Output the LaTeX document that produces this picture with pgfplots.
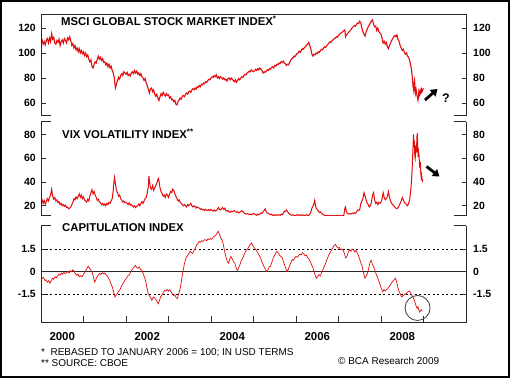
\documentclass[border=0pt]{standalone}
\usepackage{pgfplots}
\pgfplotsset{compat=1.18}
\usepackage{fontspec}
\setmainfont{Liberation Sans}
\usetikzlibrary{arrows.meta}
\definecolor{linered}{RGB}{228,12,12}
\definecolor{axgray}{RGB}{40,40,40}

\pgfplotsset{
  panel/.style={scale only axis, width=425bp, xmin=0, xmax=10, clip mode=individual,
    axis line style={draw=none}, tick align=inside, major tick length=7bp,
    xtick style={axgray, line width=0.8bp}, ytick style={draw=none},
    /pgf/number format/assume math mode=true,
    yticklabel pos=left,
    yticklabel style={font=\bfseries\fontsize{10.5}{12}\selectfont, inner sep=0pt, xshift=-5bp},
    xtick=\empty, minor tick num=0},
  rlabels/.style={scale only axis, width=425bp, xmin=0, xmax=10, axis line style={draw=none},
    hide x axis, tick align=inside, major tick length=4.5bp, ytick style={axgray, line width=0.8bp},
    /pgf/number format/assume math mode=true, ytick pos=both, yticklabel pos=right,
    yticklabel style={font=\bfseries\fontsize{10.5}{12}\selectfont, inner sep=0pt, xshift=7bp}},
}

\begin{document}
\begin{tikzpicture}
\useasboundingbox (0bp,0bp) rectangle (510bp,378bp);
\fill[white] (0bp,0bp) rectangle (510bp,378bp);

% ---------------- Panel 1: MSCI ----------------
\begin{axis}[panel, at={(41bp,262bp)}, anchor=south west, height=101bp,
  ymin=49.6, ymax=130.4, ytick={60,80,100,120}]
\addplot[linered, line width=1.1bp] table {
0.000 108
0.025 110.5
0.050 107
0.075 109
0.100 106.5
0.125 110
0.150 111.5
0.175 108
0.200 112
0.225 109
0.250 115.5
0.275 111
0.300 112.5
0.325 108
0.350 107
0.375 110
0.400 108.5
0.425 111
0.450 106
0.475 109
0.500 110.5
0.525 108
0.550 111.5
0.575 110
0.600 108
0.625 112
0.650 110.5
0.675 113
0.700 110
0.725 106
0.750 107.5
0.775 104
0.800 106
0.825 102.5
0.850 104
0.875 101
0.900 103.5
0.925 100
0.950 102
0.975 99.5
1.000 101
1.025 98
1.050 100
1.075 97
1.100 98.5
1.125 95
1.150 93
1.175 94.5
1.200 89
1.225 88
1.250 91
1.275 93
1.300 92
1.325 95
1.350 97.5
1.375 95
1.400 96.5
1.425 94
1.450 95.5
1.475 92.5
1.500 93
1.525 90.5
1.550 92
1.575 89
1.600 91
1.625 88
1.650 89.5
1.675 86
1.700 84
1.725 80
1.750 72
1.775 75
1.800 78
1.825 80.5
1.850 79
1.875 82
1.900 83.5
1.925 82
1.950 85
1.975 84
2.000 83
2.025 84.5
2.050 82
2.075 83
2.100 81.5
2.125 84
2.150 85
2.175 83.5
2.200 86
2.225 84
2.250 85.5
2.275 83
2.300 84
2.325 82
2.350 83.5
2.375 81
2.400 80
2.425 78
2.450 79.5
2.475 76
2.500 74
2.525 71
2.550 68
2.575 71.5
2.600 72
2.625 69
2.650 70.5
2.675 67
2.700 65.5
2.725 67
2.750 64
2.775 62
2.800 65
2.825 67.5
2.850 66
2.875 68.5
2.900 67
2.925 65.5
2.950 67.5
2.975 66
3.000 66.5
3.025 64
3.050 65
3.075 62.5
3.100 63
3.125 61
3.150 62
3.175 59
3.200 58.5
3.225 61
3.250 62.5
3.275 64
3.300 63
3.325 65.5
3.350 66
3.375 65
3.400 67
3.425 68
3.450 67
3.475 69
3.500 69.5
3.525 68.5
3.550 70.5
3.575 71.5
3.600 70.5
3.625 72
3.650 71
3.675 73
3.700 72.5
3.725 74
3.750 73
3.775 75
3.800 74.5
3.825 76
3.850 75.5
3.875 77
3.900 76.5
3.925 78
3.950 79
3.975 78.5
4.000 80
4.025 81
4.050 80.5
4.075 82
4.100 81
4.125 82.5
4.150 80
4.175 81
4.200 79.5
4.225 81
4.250 80.5
4.275 79
4.300 80
4.325 78.5
4.350 79
4.375 77.5
4.400 79.5
4.425 80
4.450 78.5
4.475 80
4.500 79
4.525 78
4.550 77
4.575 78.5
4.600 76.5
4.625 78
4.650 79.5
4.675 78.5
4.700 80
4.725 81
4.750 80.5
4.775 82
4.800 83
4.825 82.5
4.850 84
4.875 84.5
4.900 85.5
4.925 85
4.950 86.5
4.975 85.5
5.000 85
5.025 86
5.050 87
5.075 86
5.100 87.5
5.125 86.5
5.150 88
5.175 87
5.200 86
5.225 84
5.250 85
5.275 84.5
5.300 85.5
5.325 86.5
5.350 86
5.375 87.5
5.400 87
5.425 88.5
5.450 89
5.475 88
5.500 90
5.525 89.5
5.550 91
5.575 90.5
5.600 92
5.625 91.5
5.650 93
5.675 92.5
5.700 93.5
5.725 92
5.750 91.5
5.775 90
5.800 91
5.825 90.5
5.850 92.5
5.875 94
5.900 95.5
5.925 96
5.950 97.5
5.975 97
6.000 98.5
6.025 99.5
6.050 100
6.075 101.5
6.100 100.5
6.125 102
6.150 103.5
6.175 103
6.200 104.5
6.225 105
6.250 106.5
6.275 107
6.300 108.5
6.325 106
6.350 103
6.375 99
6.400 97.5
6.425 99
6.450 98.5
6.475 100
6.500 99.5
6.525 101
6.550 100.5
6.575 102
6.600 103
6.625 102.5
6.650 104
6.675 105
6.700 104.5
6.725 106
6.750 107
6.775 108
6.800 109
6.825 108.5
6.850 110
6.875 110.5
6.900 111.5
6.925 112
6.950 113
6.975 112.5
7.000 114
7.025 115
7.050 115.5
7.075 116.5
7.100 117
7.125 118
7.150 118.5
7.165 113
7.190 114.5
7.225 116
7.250 117
7.275 118
7.300 119
7.325 120.5
7.350 121
7.375 122
7.400 121.5
7.425 123
7.450 124
7.475 123.5
7.500 125.5
7.525 124
7.550 120
7.575 117
7.600 115
7.625 113.5
7.650 117
7.675 119
7.700 121
7.725 122.5
7.750 124
7.775 125.5
7.800 126.5
7.825 123
7.850 121
7.875 121.5
7.900 118
7.925 120
7.950 117
7.975 116
8.000 115
8.025 112
8.050 108
8.075 109.5
8.100 107
8.125 108.5
8.150 105
8.175 103.5
8.200 106
8.225 108
8.250 110
8.275 111.5
8.300 113
8.325 114
8.350 113
8.375 114.5
8.400 111
8.425 109.5
8.450 106
8.475 104
8.500 102
8.525 103
8.550 100.5
8.575 99
8.600 100
8.625 97.5
8.650 96.5
8.675 94
8.700 90
8.720 86
8.740 79
8.755 73
8.770 70
8.780 76
8.790 78
8.800 72
8.810 68
8.825 71
8.840 67
8.855 65
8.870 62
8.880 64
8.890 69
8.905 67
8.920 70
8.935 68
8.950 71
8.965 69
8.980 70
8.995 72
};
\draw[axgray, line width=1bp] (rel axis cs:0,0) -- (rel axis cs:0,1) -- (rel axis cs:1,1) -- (rel axis cs:1,0);
\end{axis}
\begin{axis}[rlabels, at={(41bp,262bp)}, anchor=south west, height=101bp,
  ymin=49.6, ymax=130.4, ytick={60,80,100,120}]
\end{axis}

% ---------------- Panel 2: VIX ----------------
\begin{axis}[panel, at={(41bp,162bp)}, anchor=south west, height=94.5bp,
  ymin=11.4, ymax=90.9, ytick={20,40,60,80}]
\addplot[linered, line width=1.0bp] table {
0.000 23
0.025 25
0.050 22
0.075 24.5
0.100 21.5
0.125 23.5
0.150 26
0.175 24
0.200 27
0.225 29
0.250 34
0.275 28
0.300 25.5
0.325 27
0.350 24
0.375 25
0.400 22.5
0.425 23.5
0.450 21
0.475 22
0.500 20
0.525 21
0.550 19.5
0.575 20.5
0.600 18.5
0.625 19
0.650 17.5
0.675 18
0.700 19
0.725 21
0.750 23
0.775 26
0.800 25
0.825 27.5
0.850 26
0.875 28
0.900 30
0.925 27
0.950 29
0.975 26
1.000 27.5
1.025 25
1.050 24
1.075 23
1.100 25.5
1.125 24
1.150 28
1.175 31
1.200 33.5
1.225 30
1.250 32
1.275 29
1.300 27
1.325 24.5
1.350 25.5
1.375 23
1.400 22.5
1.425 21
1.450 22
1.475 20.5
1.500 21.5
1.525 20
1.550 22
1.575 21
1.600 23
1.625 22
1.650 24
1.675 26
1.700 33
1.715 40
1.730 44
1.750 39
1.775 33
1.800 31
1.825 28
1.850 29
1.875 26
1.900 24.5
1.925 23
1.950 24
1.975 22.5
2.000 23
2.025 22
2.050 21
2.075 22.5
2.100 20.5
2.125 21
2.150 20
2.175 19
2.200 20
2.225 18.5
2.250 19.5
2.275 20
2.300 21.5
2.325 20
2.350 22
2.375 23.5
2.400 22
2.425 24
2.450 26
2.475 27
2.500 31
2.525 36
2.540 45
2.555 40
2.575 35
2.600 34
2.625 37
2.650 33
2.675 35
2.700 37
2.725 39
2.750 42
2.765 43
2.780 40
2.800 35
2.825 32
2.850 30
2.875 28
2.900 29
2.925 27
2.950 30
2.975 29
3.000 27
3.025 30
3.050 32
3.075 31
3.100 34
3.125 33
3.150 30
3.175 28
3.200 26
3.225 24
3.250 25
3.275 23
3.300 22
3.325 21
3.350 20
3.375 21
3.400 20
3.425 19
3.450 21
3.475 20
3.500 21
3.525 22
3.550 20
3.575 19
3.600 20
3.625 19.5
3.650 18
3.675 19
3.700 18.5
3.725 18
3.750 17
3.775 17.5
3.800 16.5
3.825 17
3.850 16
3.875 17
3.900 16.5
3.925 16
3.950 17
3.975 16
4.000 17
4.025 16
4.050 15.5
4.075 16.5
4.100 15.5
4.125 16
4.150 17
4.175 18.5
4.200 17
4.225 16.5
4.250 17.5
4.275 18.5
4.300 17
4.325 18
4.350 16
4.375 15.5
4.400 16
4.425 15
4.450 14.5
4.475 15.5
4.500 15
4.525 15.5
4.550 16
4.575 15
4.600 14.5
4.625 15
4.650 14
4.675 14.5
4.700 15
4.725 16
4.750 15
4.775 14
4.800 13.5
4.825 13
4.850 13.5
4.875 13
4.900 12.5
4.925 13
4.950 12.5
4.975 13
5.000 13.5
5.025 13
5.050 12.5
5.075 12
5.100 13
5.125 12.5
5.150 13
5.175 14
5.200 13.5
5.225 15
5.250 16
5.275 17.5
5.300 15
5.325 14
5.350 13.5
5.375 13
5.400 12.5
5.425 13
5.450 12
5.475 11.8
5.500 12.5
5.525 12
5.550 12.5
5.575 12
5.600 12.5
5.625 12
5.650 13
5.675 12.5
5.700 13.5
5.725 15.5
5.750 15
5.775 16.5
5.800 15
5.825 14
5.850 13
5.875 12.5
5.900 12
5.925 12.5
5.950 12
5.975 11.8
6.000 12
6.025 12.5
6.050 12
6.075 12.5
6.100 11.8
6.125 12
6.150 12.5
6.175 12
6.200 11.8
6.225 12
6.250 12.5
6.275 12
6.300 11.8
6.325 13
6.350 15
6.375 18
6.400 19.5
6.425 22
6.440 24.5
6.460 20
6.475 18
6.500 17
6.525 15.5
6.550 14.5
6.575 15
6.600 13.5
6.625 13
6.650 12.5
6.675 12
6.700 11.8
6.725 12
6.750 11.5
6.775 11.8
6.800 11.5
6.825 11.8
6.850 11.5
6.875 11.8
6.900 11.5
6.925 11.8
6.950 11.5
6.975 12
7.000 11.8
7.025 11.5
7.050 11.8
7.075 11.5
7.100 11.8
7.125 12
7.150 18
7.165 19
7.185 15
7.200 14
7.225 13.5
7.250 13
7.275 13.5
7.300 13
7.325 14
7.350 13.5
7.375 14
7.400 13.5
7.425 15
7.450 16.5
7.475 16
7.500 17
7.525 22
7.550 24
7.575 26
7.600 31
7.625 28
7.650 25
7.675 22
7.700 21
7.725 19
7.750 20
7.775 23
7.800 29
7.825 31
7.850 25
7.875 22
7.900 23
7.925 21
7.950 23
7.975 22
8.000 23
8.025 26
8.050 31
8.075 27
8.100 25
8.125 26
8.150 28
8.175 32
8.200 27
8.225 24
8.250 22
8.275 21
8.300 20
8.325 19
8.350 18
8.375 17.5
8.400 18.5
8.425 20
8.450 22
8.475 24
8.500 27
8.525 25
8.550 23
8.575 22
8.600 21
8.625 20
8.650 22
8.675 25
8.700 33
8.715 40
8.725 45
8.735 53
8.745 62
8.755 70
8.765 80
8.775 69
8.785 75
8.795 62
8.805 60
8.815 66
8.825 71
8.835 65
8.845 78
8.855 81
8.865 68
8.875 61
8.885 65
8.895 62
8.905 55
8.915 52
8.925 57
8.935 48
8.945 44
8.955 46
8.965 43
8.975 41
8.985 42
};
\draw[axgray, line width=1bp] (rel axis cs:0,0) -- (rel axis cs:0,1);
\draw[axgray, line width=1bp] (rel axis cs:1,0) -- (rel axis cs:1,1);
\end{axis}
\begin{axis}[rlabels, at={(41bp,162bp)}, anchor=south west, height=94.5bp,
  ymin=11.4, ymax=90.9, ytick={20,40,60,80}]
\end{axis}

% ---------------- Panel 3: Capitulation ----------------
\begin{axis}[panel, at={(41bp,55bp)}, anchor=south west, height=97bp,
  ymin=-3.43, ymax=3.03, ytick={-1.5,0,1.5},
  yticklabel style={/pgf/number format/fixed, /pgf/number format/precision=1},
  xtick={1,2,3,4,5,6,7,8,9}, xticklabels={}, xtick pos=left,
  extra x ticks={0.5,2.5,4.5,6.5,8.5},
  extra x tick labels={2000,2002,2004,2006,2008},
  extra x tick style={major tick length=0pt, xtick style={draw=none},
    xticklabel style={font=\bfseries\fontsize{11.5}{13}\selectfont, inner sep=0pt, anchor=center, yshift=-14bp}}]
\addplot[axgray, line width=0.9bp] coordinates {(0,0) (10,0)};
\addplot[black, line width=0.9bp, dash pattern=on 2bp off 2.5bp] coordinates {(0,1.5) (10,1.5)};
\addplot[black, line width=0.9bp, dash pattern=on 2bp off 2.5bp] coordinates {(0,-1.5) (10,-1.5)};
\addplot[linered, line width=0.7bp] table {
0.00 -0.30
0.03 -0.45
0.06 -0.40
0.09 -0.60
0.12 -0.55
0.15 -0.72
0.18 -0.62
0.21 -0.78
0.24 -0.60
0.27 -0.45
0.30 -0.52
0.33 -0.35
0.36 -0.42
0.39 -0.30
0.42 -0.18
0.45 -0.25
0.48 -0.10
0.51 -0.18
0.54 -0.05
0.57 -0.15
0.60 -0.08
0.63 -0.02
0.66 -0.10
0.69 0.05
0.72 -0.02
0.75 0.12
0.78 0.00
0.81 -0.15
0.84 -0.25
0.87 -0.18
0.90 -0.35
0.93 -0.28
0.96 -0.36
0.99 -0.22
1.02 -0.10
1.05 0.05
1.08 0.20
1.11 0.35
1.14 0.22
1.17 0.10
1.20 -0.05
1.23 -0.30
1.26 -0.70
1.29 -0.55
1.32 -0.35
1.35 -0.25
1.38 -0.12
1.41 -0.20
1.44 -0.08
1.47 -0.15
1.50 -0.10
1.53 -0.22
1.56 -0.30
1.59 -0.45
1.62 -0.60
1.65 -0.85
1.68 -1.05
1.71 -1.35
1.74 -1.70
1.77 -1.55
1.80 -1.45
1.83 -1.30
1.86 -1.20
1.89 -1.00
1.92 -0.85
1.95 -0.70
1.98 -0.55
2.01 -0.45
2.04 -0.30
2.07 -0.25
2.10 -0.10
2.13 0.05
2.16 0.20
2.19 0.30
2.22 0.40
2.25 0.28
2.28 0.22
2.31 0.30
2.34 0.15
2.37 0.08
2.40 -0.10
2.43 -0.35
2.46 -0.60
2.49 -1.05
2.52 -1.45
2.55 -1.60
2.58 -1.75
2.61 -1.92
2.64 -1.70
2.67 -1.75
2.70 -1.85
2.73 -2.00
2.76 -2.15
2.79 -1.90
2.82 -1.65
2.85 -1.55
2.88 -1.40
2.91 -1.25
2.94 -1.30
2.97 -1.20
3.00 -1.30
3.03 -1.22
3.06 -1.35
3.09 -1.50
3.12 -1.60
3.15 -1.55
3.18 -1.75
3.21 -1.80
3.24 -1.50
3.27 -1.20
3.30 -0.70
3.33 -0.15
3.36 0.30
3.39 0.70
3.42 0.95
3.45 1.05
3.48 1.20
3.51 1.35
3.54 1.25
3.57 1.20
3.60 1.40
3.63 1.55
3.66 1.75
3.69 1.85
3.72 2.00
3.75 1.95
3.78 2.05
3.81 2.00
3.84 2.10
3.87 2.12
3.90 2.05
3.93 2.18
3.96 2.12
3.99 2.20
4.02 2.15
4.05 2.28
4.08 2.35
4.11 2.40
4.14 2.55
4.17 2.68
4.20 2.45
4.23 2.25
4.26 2.10
4.29 1.80
4.32 1.35
4.35 1.00
4.38 0.70
4.41 0.55
4.44 0.80
4.47 1.00
4.50 0.85
4.53 0.65
4.56 0.55
4.59 0.25
4.62 0.05
4.65 0.25
4.68 0.45
4.71 0.70
4.74 0.85
4.77 1.05
4.80 1.25
4.83 1.40
4.86 1.50
4.89 1.65
4.92 1.80
4.95 1.90
4.98 1.75
5.01 1.60
5.04 1.50
5.07 1.40
5.10 1.25
5.13 1.10
5.16 0.95
5.19 0.70
5.22 0.50
5.25 0.30
5.28 0.15
5.31 0.00
5.34 0.10
5.37 0.30
5.40 0.35
5.43 0.60
5.46 0.85
5.49 1.05
5.52 1.20
5.55 1.35
5.58 1.25
5.61 1.10
5.64 1.00
5.67 0.95
5.70 0.70
5.73 0.45
5.76 0.20
5.79 0.00
5.82 0.15
5.85 0.40
5.88 0.60
5.91 0.80
5.94 0.75
5.97 0.90
6.00 1.00
6.03 0.95
6.06 1.05
6.09 1.15
6.12 1.10
6.15 1.25
6.18 1.20
6.21 1.05
6.24 1.10
6.27 0.95
6.30 0.85
6.33 0.70
6.36 0.50
6.39 0.30
6.42 0.05
6.45 -0.25
6.48 -0.45
6.51 -0.35
6.54 -0.20
6.57 -0.30
6.60 -0.10
6.63 0.10
6.66 0.30
6.69 0.50
6.72 0.75
6.75 0.95
6.78 1.15
6.81 1.30
6.84 1.45
6.87 1.60
6.90 1.75
6.93 1.80
6.96 1.65
6.99 1.55
7.02 1.60
7.05 1.45
7.08 1.50
7.11 1.40
7.14 1.20
7.17 0.90
7.20 1.00
7.23 1.30
7.26 1.45
7.29 1.35
7.32 1.50
7.35 1.45
7.38 1.30
7.41 1.40
7.44 1.25
7.47 1.05
7.50 0.80
7.53 0.55
7.56 0.30
7.59 -0.10
7.62 -0.45
7.65 -0.30
7.68 -0.15
7.71 0.20
7.74 0.60
7.77 0.75
7.80 0.45
7.83 0.30
7.86 0.05
7.89 -0.20
7.92 -0.40
7.95 -0.65
7.98 -0.90
8.01 -1.15
8.04 -1.35
8.07 -1.20
8.10 -1.30
8.13 -1.20
8.16 -1.15
8.19 -1.00
8.22 -0.90
8.25 -0.75
8.28 -0.65
8.31 -0.55
8.34 -0.45
8.37 -0.70
8.40 -1.10
8.43 -1.35
8.46 -1.55
8.49 -1.70
8.52 -1.60
8.55 -1.55
8.58 -1.50
8.61 -1.40
8.64 -1.35
8.67 -1.30
8.70 -1.45
8.73 -1.60
8.76 -1.75
8.79 -1.95
8.82 -2.25
8.85 -2.45
8.87 -2.35
8.89 -2.55
8.91 -2.70
8.93 -2.60
8.95 -2.55
8.97 -2.65
};
\draw[axgray, line width=1bp] (rel axis cs:0,1) -- (rel axis cs:0,0) -- (rel axis cs:1,0) -- (rel axis cs:1,1);
\draw[black!75, line width=0.8bp] (axis cs:8.86,-2.43) circle[radius=12.5bp];
\end{axis}
\begin{axis}[rlabels, at={(41bp,55bp)}, anchor=south west, height=97bp,
  ymin=-3.43, ymax=3.03, ytick={-1.5,0,1.5},
  yticklabel style={/pgf/number format/fixed, /pgf/number format/precision=1}]
\end{axis}

% ---------- stubs at panel ends ----------
\begin{scope}[axgray, line width=1bp]
\draw (41bp,262bp) -- (51bp,262bp);
\draw (454bp,262bp) -- (466bp,262bp);
\draw (41bp,256.5bp) -- (51bp,256.5bp);
\draw (454bp,256.5bp) -- (466bp,256.5bp);
\draw (41bp,162bp) -- (51bp,162bp);
\draw (454bp,162bp) -- (466bp,162bp);
\draw (41bp,152bp) -- (51bp,152bp);
\draw (454bp,152bp) -- (466bp,152bp);
\end{scope}

% ---------- titles ----------
\node[anchor=west, inner sep=0pt, font=\bfseries\fontsize{11.4}{13}\selectfont] at (61bp,357.5bp) {MSCI GLOBAL STOCK MARKET INDEX\textsuperscript{*}};
\node[anchor=west, inner sep=0pt, font=\bfseries\fontsize{11.4}{13}\selectfont] at (62bp,244bp) {VIX VOLATILITY INDEX\textsuperscript{**}};
\node[anchor=west, inner sep=0pt, font=\bfseries\fontsize{11.4}{13}\selectfont] at (62bp,150bp) {CAPITULATION INDEX};

% ---------- annotations ----------
\draw[black, line width=2.8bp, -{Triangle[length=6.5bp,width=8.5bp]}] (425bp,278bp) -- (437.5bp,289bp);
\node[inner sep=0pt, font=\bfseries\fontsize{12.5}{14}\selectfont] at (446bp,280bp) {?};
\draw[black, line width=2.8bp, -{Triangle[length=6.5bp,width=8.5bp]}] (426.5bp,211.5bp) -- (439.5bp,201.5bp);

% ---------- footnotes ----------
\node[anchor=west, inner sep=0pt, font=\fontsize{10}{12}\selectfont] at (41bp,25.3bp) {*\ \ REBASED TO JANUARY 2006 = 100; IN USD TERMS};
\node[anchor=west, inner sep=0pt, font=\fontsize{10}{12}\selectfont] at (41bp,15bp) {** SOURCE: CBOE};
\node[anchor=west, inner sep=0pt, font=\fontsize{10}{12}\selectfont] at (338bp,17.3bp) {\textcopyright\ BCA Research 2009};

% ---------- outer frame ----------
\draw[black, line width=2bp] (1bp,1bp) rectangle (509bp,377bp);
\end{tikzpicture}
\end{document}
